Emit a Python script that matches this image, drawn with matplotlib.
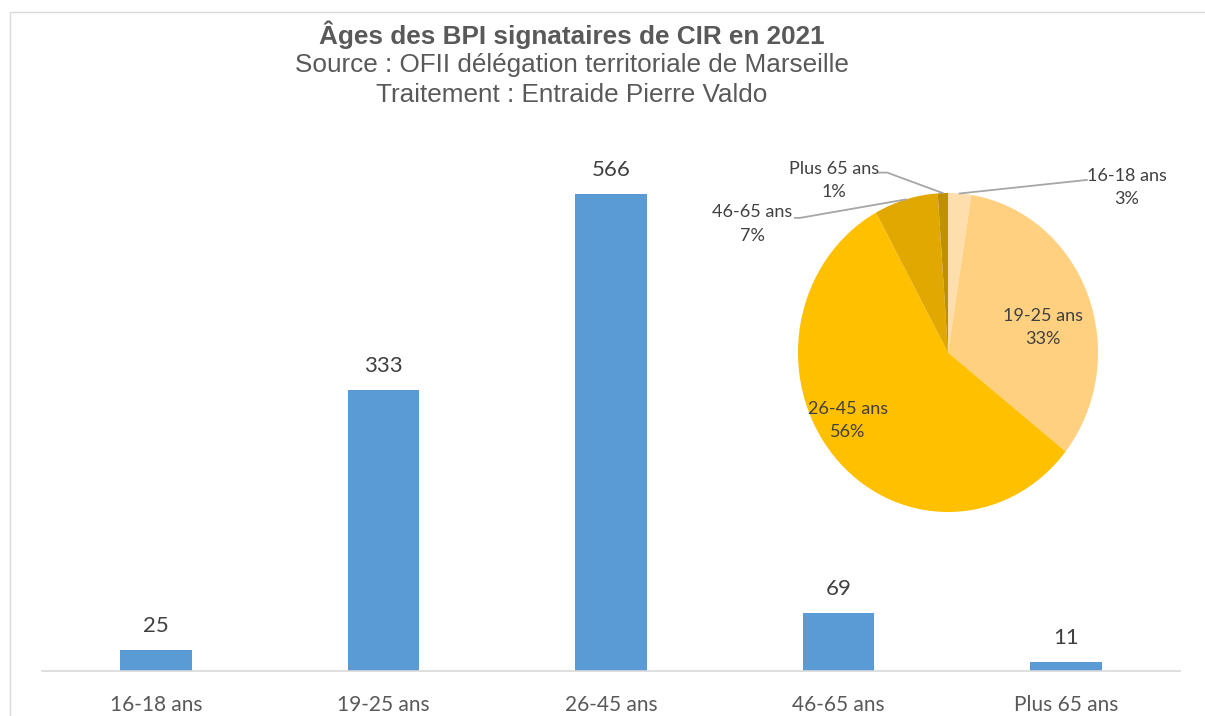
import numpy as np
import matplotlib
matplotlib.use("Agg")
import matplotlib.pyplot as plt
from matplotlib.patches import Rectangle

categories = ["16-18 ans", "19-25 ans", "26-45 ans", "46-65 ans", "Plus 65 ans"]
values = [25, 333, 566, 69, 11]
pie_pct_labels = ["3%", "33%", "56%", "7%", "1%"]
pie_colors = ["#FFDEAD", "#FFD07F", "#FFC000", "#E0A800", "#BF9000"]
bar_color = "#5B9BD5"
title = "Âges des BPI signataires de CIR en 2021"
subtitle1 = "Source : OFII délégation territoriale de Marseille"
subtitle2 = "Traitement : Entraide Pierre Valdo"

W, H = 1205, 716
fig = plt.figure(figsize=(W / 100, H / 100), dpi=100)
fig.patch.set_facecolor("white")

def fx(px):
    return px / W

def fy(py):
    return 1 - py / H

# Chart-area frame
fig.patches.append(Rectangle((fx(10), fy(1000)), fx(1300), fy(12) - fy(1000),
                             transform=fig.transFigure, fill=False,
                             edgecolor="#D9D9D9", linewidth=1.0))

# Titles
fig.text(fx(572), fy(35), title, ha="center", va="center", fontsize=18.8,
         fontweight="bold", color="#595959", family="Liberation Sans")
fig.text(fx(572), fy(65), subtitle1, ha="center", va="center", fontsize=18.8,
         color="#595959", family="Liberation Sans")
fig.text(fx(572), fy(95), subtitle2, ha="center", va="center", fontsize=18.8,
         color="#595959", family="Liberation Sans")

# Bar chart
ax = fig.add_axes([fx(42), fy(671), fx(1180) - fx(42), fy(140) - fy(671)])
x = np.arange(len(categories))
bars = ax.bar(x, values, width=0.315, color=bar_color)
ax.set_xlim(-0.5, len(categories) - 0.5)
ax.set_ylim(0, 630)
for b, v in zip(bars, values):
    ax.annotate(str(v), (b.get_x() + b.get_width() / 2, v), xytext=(0, 10),
                textcoords="offset points", ha="center", va="bottom",
                fontsize=16, color="#404040", family="Lato")
ax.set_xticks(x)
ax.set_xticklabels(categories, fontsize=15, color="#595959", family="Lato")
ax.tick_params(axis="x", length=0, pad=17.5)
ax.set_yticks([])
for s in ["top", "right", "left"]:
    ax.spines[s].set_visible(False)
ax.spines["bottom"].set_color("#D9D9D9")
ax.spines["bottom"].set_linewidth(1.2)
ax.patch.set_alpha(0)

# Pie chart
pax = fig.add_axes([fx(798), fy(512), fx(1098) - fx(798), fy(193) - fy(512)])
wedges, _ = pax.pie(values, colors=pie_colors, startangle=90, counterclock=False,
                    radius=1, wedgeprops=dict(linewidth=0))
pax.set_aspect("auto")
pax.set_xlim(-1, 1)
pax.set_ylim(-1, 1)

mids = [np.deg2rad((w.theta1 + w.theta2) / 2) for w in wedges]

txtkw = dict(fontsize=13, color="#404040", family="Lato", linespacing=1.6)
# inside labels (placement in pie data units)
inside = {1: (0.633, 0.157), 2: (-0.667, -0.426)}
for i, (px_, py_) in inside.items():
    pax.text(px_, py_, f"{categories[i]}\n{pie_pct_labels[i]}",
             ha="center", va="center", **txtkw)

# outside labels with leader lines (positions in axes fraction)
outside = {
    0: ((1.097, 1.017), [(0.963, 1.041)]),
    4: ((0.12, 1.039), [(0.297, 1.064), (0.267, 1.064)]),
    3: ((-0.153, 0.903), [(0.007, 0.922), (-0.01, 0.922)]),
}
for i, (pos, knees) in outside.items():
    a = mids[i]
    ex, ey = 0.5 + 0.5 * np.cos(a), 0.5 + 0.5 * np.sin(a)
    pts = [(ex, ey)] + knees
    xs = [p[0] for p in pts]
    ys = [p[1] for p in pts]
    pax.plot(xs, ys, transform=pax.transAxes, color="#A6A6A6", lw=1.3,
             clip_on=False)
    pax.text(pos[0], pos[1], f"{categories[i]}\n{pie_pct_labels[i]}",
             transform=pax.transAxes, ha="center", va="center", clip_on=False,
             **txtkw)

fig.savefig("out.png", dpi=100, facecolor="white")
